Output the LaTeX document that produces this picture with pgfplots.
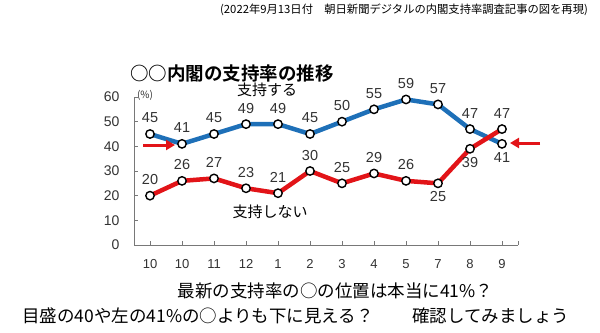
\documentclass[border=0pt]{standalone}
\usepackage{fontspec}
\setmainfont{Liberation Sans}
\newfontfamily\jp{Noto Sans CJK JP}
\newfontfamily\jpb{Noto Sans CJK JP Bold}
\usepackage{pgfplots}
\usepackage{pgfplotstable}
\pgfplotsset{compat=1.18}
\usetikzlibrary{arrows.meta}
\definecolor{sblue}{RGB}{30,112,184}
\definecolor{sred}{RGB}{226,20,24}
\definecolor{lbl}{RGB}{50,50,50}
\definecolor{axg}{RGB}{120,120,120}

\pgfplotstableread{
x y s
0 45 16
1 41 16
2 45 16
3 49 16
4 49 16
5 45 16
6 50 16
7 55 16
8 59 16
9 57 16
10 47 16
11 41 -14
}\support

\pgfplotstableread{
x y s
0 20 16
1 26 16
2 27 16
3 23 16
4 21 16
5 30 16
6 25 16
7 29 16
8 26 16
9 25 -13
10 39 -14
11 47 16
}\nonsupport

\begin{document}
\begin{tikzpicture}[x=1bp,y=1bp]
\path[use as bounding box] (0,0) rectangle (600,332);
\begin{axis}[
  at={(134bp,87bp)}, anchor=south west,
  scale only axis, width=384bp, height=148bp,
  xmin=-0.5, xmax=11.5, ymin=0, ymax=60,
  /pgf/number format/assume math mode=true,
  axis x line*=bottom, axis y line*=left,
  axis line style={draw=axg, line width=0.9bp},
  xtick={0,...,11},
  xticklabels={\mbox{10},\mbox{10},\mbox{11},\mbox{12},\mbox{1},\mbox{2},\mbox{3},\mbox{4},\mbox{5},\mbox{7},\mbox{8},\mbox{9}},
  extra x ticks={11.5}, extra x tick labels={},
  ytick={0,10,...,60},
  tick align=inside,
  major tick length=4bp,
  tick style={draw=axg, line width=0.9bp},
  xticklabel style={font=\fontsize{13bp}{13bp}\selectfont, text=lbl, yshift=-11bp},
  yticklabel style={font=\fontsize{14bp}{14bp}\selectfont, text=lbl, xshift=-11bp},
  clip=false,
  nodes near coords,
  every node near coord/.append style={font=\fontsize{14.5bp}{14.5bp}\selectfont, text=lbl},
]
\addplot[sblue, line width=4.5bp, mark=*, mark size=4.2bp,
  mark options={fill=white, draw=black, line width=1.4bp},
  visualization depends on={\thisrow{s} \as \sh},
  nodes near coords style={anchor=center, yshift=\sh}]
  table[x=x, y=y] {\support};
\addplot[sred, line width=4.5bp, mark=*, mark size=4.2bp,
  mark options={fill=white, draw=black, line width=1.4bp},
  visualization depends on={\thisrow{s} \as \sh},
  nodes near coords style={anchor=center, yshift=\sh}]
  table[x=x, y=y] {\nonsupport};
\end{axis}
% arrows
\draw[sred, line width=3bp, -{Triangle[length=9bp,width=10bp]}] (143,187) -- (175,187);
\draw[sred, line width=3bp, -{Triangle[length=9bp,width=10bp]}] (540,189) -- (510,189);
% texts
\node[font=\jp\fontsize{11.3bp}{11.3bp}\selectfont, inner sep=0] at (404,322) {(2022年9月13日付　朝日新聞デジタルの内閣支持率調査記事の図を再現)};
\node[font=\jpb\fontsize{18.5bp}{18.5bp}\selectfont, inner sep=0, anchor=west] at (130,259) {○○内閣の支持率の推移};
\node[font=\jp\fontsize{10bp}{10bp}\selectfont, text=lbl, inner sep=0] at (145,237) {(\%)};
\node[font=\jp\fontsize{15bp}{15bp}\selectfont, inner sep=0] at (267,242) {支持する};
\node[font=\jp\fontsize{15bp}{15bp}\selectfont, inner sep=0] at (270,120) {支持しない};
\node[font=\jp\fontsize{17.5bp}{17.5bp}\selectfont, inner sep=0] at (335.5,41) {最新の支持率の○の位置は本当に41\%？};
\node[font=\jp\fontsize{17.5bp}{17.5bp}\selectfont, inner sep=0, anchor=west] at (22,16) {目盛の40や左の41\%の○よりも下に見える？};
\node[font=\jp\fontsize{17.5bp}{17.5bp}\selectfont, inner sep=0, anchor=west] at (412,16) {確認してみましょう};
\end{tikzpicture}
\end{document}
